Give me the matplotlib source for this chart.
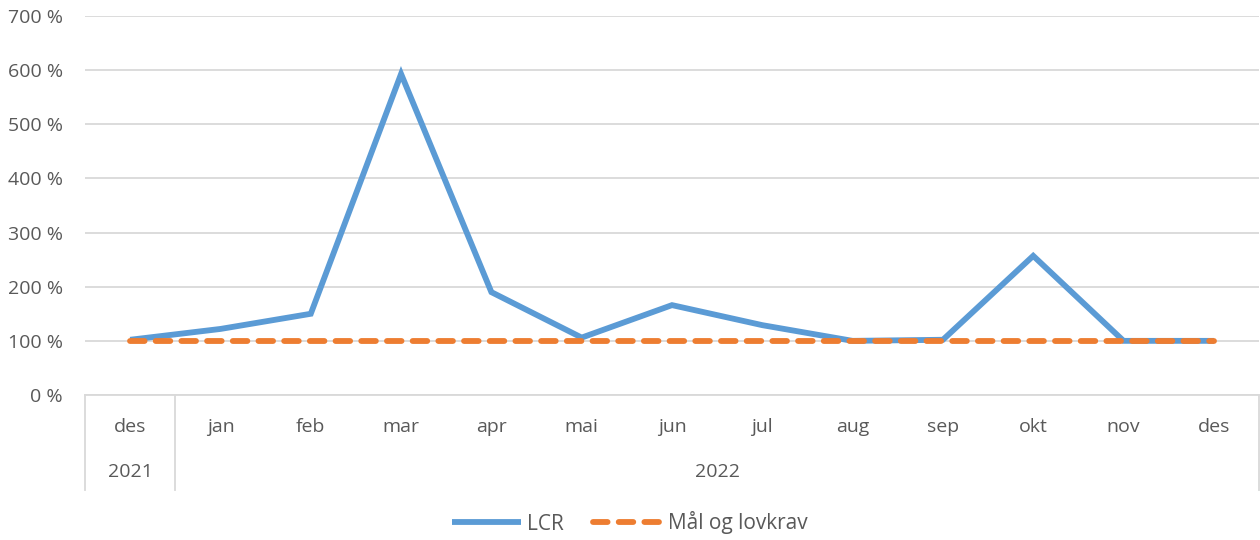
import numpy as np
import matplotlib.pyplot as plt
from matplotlib.lines import Line2D

# LCR-utvikling des 2021 - des 2022
months = ["des", "jan", "feb", "mar", "apr", "mai", "jun", "jul", "aug", "sep", "okt", "nov", "des"]
years = ["2021", "2022"]
year_spans = [(0, 0), (1, 12)]  # første og siste månedsindeks per år
lcr = [102, 122, 150, 593, 190, 106, 166, 129, 100, 102, 257, 100, 100]
krav = [100] * 13
yticks = [0, 100, 200, 300, 400, 500, 600, 700]

plt.rcParams['font.family'] = ['Open Sans', 'DejaVu Sans']
plt.rcParams['lines.scale_dashes'] = False
grey = "#595959"
gridc = "#D9D9D9"
fs = 14

W, H = 1260, 540
fig = plt.figure(figsize=(W / 100, H / 100), dpi=100)
left, right, top, bottom = 85, 1259, 16, 395
ax = fig.add_axes([left / W, 1 - bottom / H, (right - left) / W, (bottom - top) / H])

x = np.arange(len(months))
ax.plot(x, lcr, color="#5B9BD5", lw=4.2, solid_joinstyle="miter", solid_capstyle="butt", label="LCR", zorder=3)
ax.plot(x, krav, color="#ED7D31", lw=4.2, dashes=(10.5, 8), dash_capstyle="round",
        label="Mål og lovkrav", zorder=4)

ax.set_xlim(-0.5, len(months) - 0.5)
ax.set_ylim(0, 700)
ax.set_yticks(yticks)
ax.set_yticklabels([f"{v} %" for v in yticks], color=grey, fontsize=fs)
ax.tick_params(axis="y", length=0, pad=16)
ax.set_xticks([])
ax.grid(axis="y", color=gridc, lw=1.3)
ax.set_axisbelow(True)
for s in ["top", "right", "left"]:
    ax.spines[s].set_visible(False)
ax.spines["bottom"].set_color(gridc)
ax.spines["bottom"].set_linewidth(1.3)

# kategoriakse i to nivåer
h = bottom - top
ym = -(427 - bottom) / h
yy = -(472 - bottom) / h
ysep = -(490 - bottom) / h
tr = ax.get_xaxis_transform()
for i, m in enumerate(months):
    ax.text(i, ym, m, transform=tr, ha="center", va="center", color=grey, fontsize=fs)
for yr, (a, b) in zip(years, year_spans):
    ax.text((a + b) / 2, yy, yr, transform=tr, ha="center", va="center", color=grey, fontsize=fs)
for xs in [-0.5, 0.5, len(months) - 0.5]:
    ax.add_line(Line2D([xs, xs], [0, ysep], transform=tr, color=gridc, lw=1.3, clip_on=False))

fig.legend(loc="center", bbox_to_anchor=(0.5, 1 - 523 / H), ncol=2, frameon=False,
           fontsize=15, handlelength=3.3, columnspacing=1.4, handletextpad=0.3, labelcolor=grey)

fig.savefig("out.png", dpi=100)
